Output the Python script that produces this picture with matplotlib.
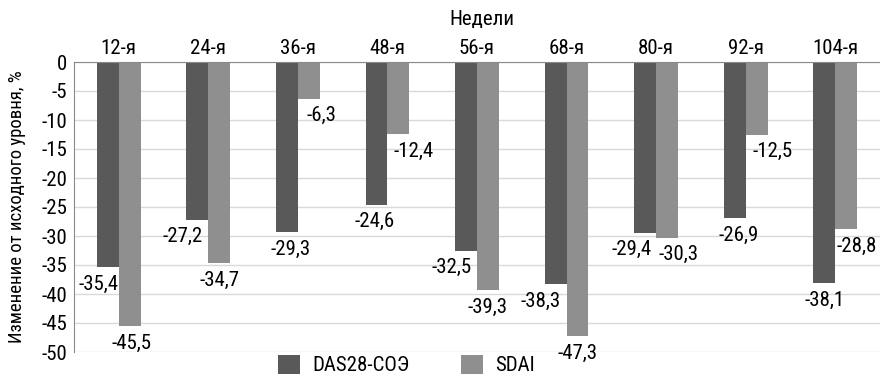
import matplotlib
matplotlib.use("Agg")
import matplotlib.pyplot as plt
from matplotlib import font_manager as fm
import numpy as np

weeks = ["12-я", "24-я", "36-я", "48-я", "56-я", "68-я", "80-я", "92-я", "104-я"]
das28 = [-35.4, -27.2, -29.3, -24.6, -32.5, -38.3, -29.4, -26.9, -38.1]
sdai = [-45.5, -34.7, -6.3, -12.4, -39.3, -47.3, -30.3, -12.5, -28.8]
series_names = ["DAS28-СОЭ", "SDAI"]
yticks = [0, -5, -10, -15, -20, -25, -30, -35, -40, -45, -50]

# label horizontal offsets (pixels) as placed in the original
das_dx = [-9.5, -15, 4, -2, -14, -15, -14, 4, 0]
sdai_dx = [2, 0, 13, 15, 0, 0, 11, 16, 10]

# pick a narrow sans font with Cyrillic glyphs
candidates = ['Liberation Sans Narrow', 'Roboto Condensed', 'PT Sans Narrow',
              'Fira Sans Condensed', 'IBM Plex Sans Condensed', 'Open Sans Condensed',
              'Ubuntu Condensed', 'Encode Sans Condensed', 'Archivo Narrow',
              'Asap Condensed', 'Barlow Condensed']
chosen = None
by_name = {}
for f in fm.fontManager.ttflist:
    if f.style == 'normal' and f.weight in (400, 'normal', 'regular'):
        by_name.setdefault(f.name, f.fname)
for c in candidates:
    if c in by_name:
        try:
            ft = fm.get_font(by_name[c])
            if ft.get_char_index(ord('И')) and ft.get_char_index(ord('я')):
                chosen = c
                break
        except Exception:
            pass
fams = ([chosen] if chosen else []) + ['DejaVu Sans']
plt.rcParams['font.family'] = fams
FS = 15

DARK = "#595959"
LIGHT = "#8f8f8f"

fig = plt.figure(figsize=(8.8, 3.76), dpi=100)
ax = fig.add_axes([74/880, 1 - 352/376, 1 - 74/880, (352 - 62)/376])

x = np.arange(len(weeks))
w = 0.245
b1 = ax.bar(x - w/2, das28, w, color=DARK, label=series_names[0], zorder=2)
b2 = ax.bar(x + w/2, sdai, w, color=LIGHT, label=series_names[1], zorder=2)

ax.set_xlim(-0.5, len(weeks) - 0.5)
ax.set_ylim(-50, 0)
ax.set_yticks(yticks)
ax.set_yticklabels([str(t) for t in yticks], fontsize=FS)
ax.xaxis.tick_top()
ax.set_xticks(x)
ax.set_xticklabels(weeks, fontsize=FS)
ax.tick_params(axis='y', length=0, pad=5)
ax.tick_params(axis='x', length=0, pad=3)

ax.yaxis.grid(True, color="#d9d9d9", linewidth=1, zorder=0)
ax.set_axisbelow(True)
for s in ["right", "bottom"]:
    ax.spines[s].set_visible(False)
ax.spines["left"].set_color("#8a8a8a")
ax.spines["top"].set_color("#8a8a8a")

ax.set_ylabel("Изменение от исходного уровня, %", fontsize=13.5)
ax.yaxis.set_label_coords(-0.059, 0.5)
fig.text(482/880, 1 - 20/376, "Недели", fontsize=FS, ha="center", va="center")

def fmt(v):
    return f"{v:.1f}".replace(".", ",")

px2pt = 72 / 100
for i, v in enumerate(das28):
    ax.annotate(fmt(v), xy=(x[i] - w/2, v), xytext=(das_dx[i] * px2pt, -17 * px2pt),
                textcoords="offset points", ha="center", va="center", fontsize=FS,
                annotation_clip=False)
for i, v in enumerate(sdai):
    ax.annotate(fmt(v), xy=(x[i] + w/2, v), xytext=(sdai_dx[i] * px2pt, -17 * px2pt),
                textcoords="offset points", ha="center", va="center", fontsize=FS,
                annotation_clip=False)

leg = fig.legend(handles=[b1, b2], labels=series_names, loc="upper left",
                 bbox_to_anchor=(278/880, 1 - 355/376), ncol=2, frameon=False,
                 fontsize=FS, handlelength=1.06, handleheight=1.0,
                 columnspacing=2.5, handletextpad=0.58, borderpad=0,
                 borderaxespad=0)

fig.savefig("out.png", dpi=100)
